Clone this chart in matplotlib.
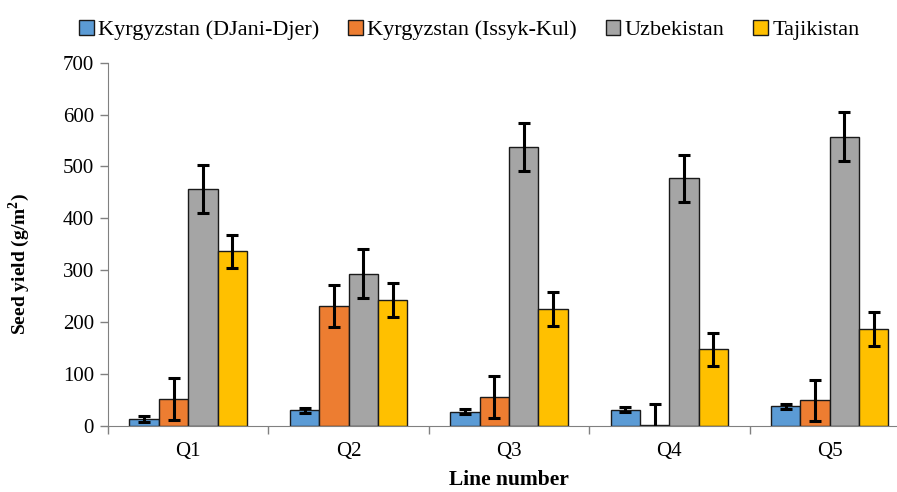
import numpy as np
import matplotlib.pyplot as plt

# %% Data

lines = ["Q1", "Q2", "Q3", "Q4", "Q5"]
series_names = ["Kyrgyzstan (DJani-Djer)", "Kyrgyzstan (Issyk-Kul)", "Uzbekistan", "Tajikistan"]

djani_djer = [13, 30, 27, 31, 37]
djani_djer_err = [5, 5, 5, 5, 5]
issyk_kul = [51, 231, 55, 2, 49]
issyk_kul_err = [40, 40, 40, 40, 40]
uzbekistan = [456, 293, 537, 477, 557]
uzbekistan_err = [46, 47, 46, 45, 47]
tajikistan = [336, 242, 225, 147, 186]
tajikistan_err = [32, 33, 33, 32, 33]

colors = ["#5B9BD5", "#ED7D31", "#A5A5A5", "#FFC000"]

# %% Plot

plt.rcParams['font.family'] = ['Liberation Serif', 'DejaVu Serif']

fig = plt.figure(figsize=(8.97, 4.92), dpi=100)
ax = fig.add_axes([0.1204, 0.1348, 0.894, 0.7378])

x = np.arange(len(lines))
bar_w = 0.183
all_values = [djani_djer, issyk_kul, uzbekistan, tajikistan]
all_errors = [djani_djer_err, issyk_kul_err, uzbekistan_err, tajikistan_err]

for i in range(4):
    offset = (i - 1.5) * bar_w
    ax.bar(x + offset, all_values[i], bar_w, color=colors[i], edgecolor="#1a1a1a",
           linewidth=1.0, label=series_names[i], zorder=2)
    ax.errorbar(x + offset, all_values[i], yerr=all_errors[i], fmt="none",
                ecolor="black", elinewidth=2.2, capsize=4, capthick=2.2, zorder=3)

ax.set_xlim(-0.5, 4.5)
ax.set_ylim(0, 700)
ax.set_yticks(range(0, 701, 100))
ax.set_xticks(x)
ax.set_xticklabels(lines)
ax.set_xticks(np.arange(-0.5, 5, 1), minor=True)
ax.tick_params(axis="x", which="major", length=0, pad=12, labelsize=15)
ax.tick_params(axis="x", which="minor", length=6, color="#808080", width=1)
ax.tick_params(axis="y", length=6, color="#808080", width=1, labelsize=15, pad=4)

for side in ["top", "right"]:
    ax.spines[side].set_visible(False)
ax.spines["left"].set_color("#808080")
ax.spines["bottom"].set_color("#808080")

ax.set_ylabel("Seed yield (g/m$^\\mathregular{2}$)", fontsize=14, fontweight="bold")
ax.yaxis.set_label_coords(-0.095, 0.445)
ax.set_xlabel("Line number", fontsize=15.5, fontweight="bold", labelpad=6)

handles, labels = ax.get_legend_handles_labels()
fig.legend(handles, labels, loc="upper left", bbox_to_anchor=(0.066, 1.0), ncol=4,
           frameon=False, fontsize=16, handlelength=0.65, handleheight=0.65,
           handletextpad=0.2, columnspacing=1.3)

fig.savefig("out.png", dpi=100)
